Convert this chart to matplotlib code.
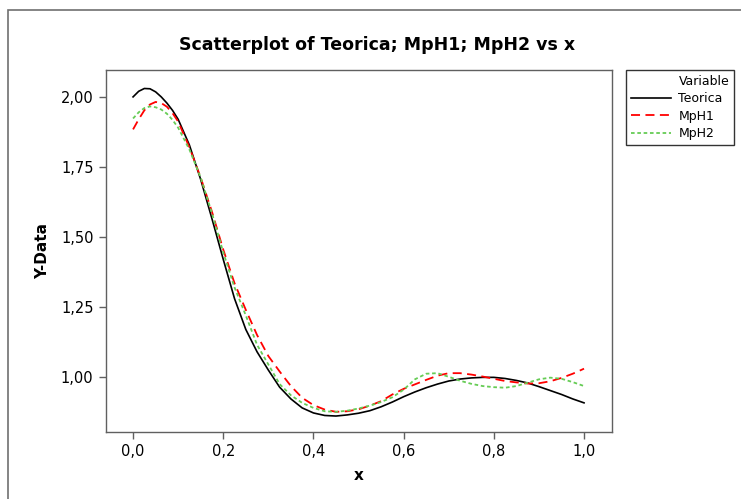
import matplotlib
matplotlib.use("Agg")
import matplotlib.pyplot as plt
from matplotlib.lines import Line2D
from matplotlib.patches import Rectangle
from matplotlib.ticker import FuncFormatter

# data
x = [0.000, 0.0125, 0.025, 0.0375, 0.050, 0.0625, 0.075, 0.0875, 0.100, 0.125,
     0.150, 0.175, 0.200, 0.225, 0.250, 0.275, 0.300, 0.325, 0.350, 0.375,
     0.400, 0.425, 0.450, 0.475, 0.500, 0.525, 0.550, 0.575, 0.600, 0.625,
     0.650, 0.675, 0.700, 0.725, 0.750, 0.775, 0.800, 0.825, 0.850, 0.875,
     0.900, 0.925, 0.950, 0.975, 1.000]
teorica = [2.000, 2.020, 2.030, 2.029, 2.018, 2.000, 1.978, 1.952, 1.920, 1.828,
           1.705, 1.565, 1.420, 1.280, 1.170, 1.090, 1.025, 0.964, 0.922, 0.890,
           0.872, 0.863, 0.861, 0.865, 0.871, 0.880, 0.894, 0.911, 0.930, 0.947,
           0.962, 0.975, 0.986, 0.993, 0.997, 0.999, 0.999, 0.995, 0.988, 0.979,
           0.966, 0.952, 0.938, 0.922, 0.908]
mph1 = [1.884, 1.920, 1.952, 1.973, 1.982, 1.978, 1.965, 1.942, 1.912, 1.820,
        1.712, 1.590, 1.455, 1.335, 1.240, 1.150, 1.075, 1.020, 0.968, 0.926,
        0.900, 0.884, 0.876, 0.878, 0.885, 0.898, 0.914, 0.938, 0.958, 0.974,
        0.990, 1.005, 1.014, 1.014, 1.009, 1.002, 0.994, 0.986, 0.981, 0.977,
        0.978, 0.985, 0.997, 1.012, 1.030]
mph2 = [1.923, 1.945, 1.960, 1.966, 1.963, 1.955, 1.940, 1.918, 1.890, 1.812,
        1.712, 1.585, 1.445, 1.320, 1.220, 1.115, 1.045, 0.975, 0.935, 0.908,
        0.890, 0.878, 0.876, 0.880, 0.888, 0.898, 0.911, 0.928, 0.955, 0.992,
        1.012, 1.014, 1.001, 0.987, 0.976, 0.968, 0.964, 0.962, 0.968, 0.980,
        0.992, 0.998, 0.994, 0.982, 0.968]

x_ticks = [0.0, 0.2, 0.4, 0.6, 0.8, 1.0]
y_ticks = [1.00, 1.25, 1.50, 1.75, 2.00]

fig = plt.figure(figsize=(7.41, 4.99), dpi=100)
ax = fig.add_axes([106 / 741, 1 - 432 / 499, 506 / 741, 362 / 499])

# outer frame of the graph window
fig.patches.append(Rectangle((8 / 741, -0.1), 1.2, 1.1 - 10 / 499,
                             transform=fig.transFigure, fill=False,
                             edgecolor="#707070", linewidth=1.2))

ax.plot(x, teorica, color="black", linewidth=1.2, label="Teorica")
ax.plot(x, mph1, color="#ff0000", linewidth=1.3, linestyle=(0, (5, 3)), label="MpH1")
ax.plot(x, mph2, color="#66cc55", linewidth=1.3, linestyle=(0, (2, 1.5)), label="MpH2")

ax.set_xlim(-0.06, 1.062)
ax.set_ylim(0.804, 2.096)
ax.set_xticks(x_ticks)
ax.set_yticks(y_ticks)
ax.xaxis.set_major_formatter(FuncFormatter(lambda v, p: f"{v:.1f}".replace(".", ",")))
ax.yaxis.set_major_formatter(FuncFormatter(lambda v, p: f"{v:.2f}".replace(".", ",")))
ax.tick_params(direction="out", length=5, width=1, colors="#606060",
               labelcolor="black", labelsize=10.5, pad=4)
for s in ax.spines.values():
    s.set_color("#606060")
    s.set_linewidth(1)

ax.set_xlabel("x", fontsize=11, fontweight="bold", labelpad=6)
ax.set_ylabel("Y-Data", fontsize=11, fontweight="bold", labelpad=8)
fig.text(377 / 741, 1 - 45 / 499, "Scatterplot of Teorica; MpH1; MpH2 vs x",
         ha="center", va="center", fontsize=12.5, fontweight="bold")

handles = [Line2D([], [], color="none", label="Variable")]
handles += ax.get_legend_handles_labels()[0]
leg = fig.legend(handles=handles, loc="upper left",
                 bbox_to_anchor=(626 / 741, 1 - 70 / 499), fontsize=9,
                 frameon=True, fancybox=False, handlelength=3.2,
                 handletextpad=0.6, labelspacing=0.35, borderpad=0.4,
                 borderaxespad=0)
leg.get_frame().set_edgecolor("black")
leg.get_frame().set_linewidth(1)

fig.savefig("out.png", dpi=100)
